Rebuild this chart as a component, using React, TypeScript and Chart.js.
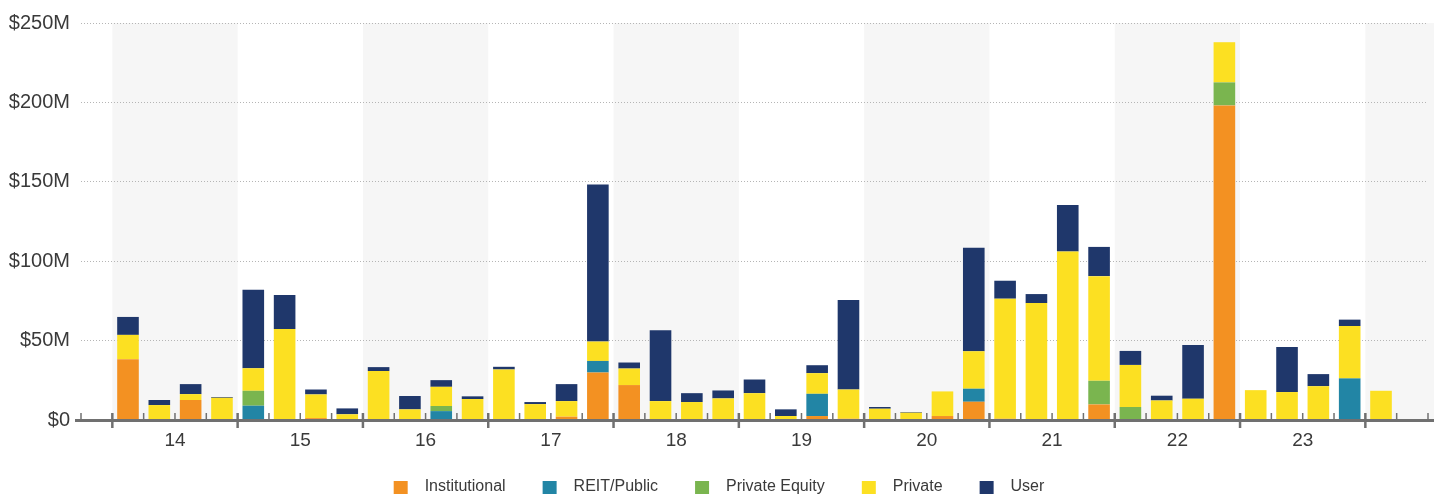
import { useEffect, useRef } from 'react';
import { Chart, registerables } from 'chart.js';

Chart.register(...registerables);

const quarters = [
  '2013 Q4',
  '2014 Q1', '2014 Q2', '2014 Q3', '2014 Q4',
  '2015 Q1', '2015 Q2', '2015 Q3', '2015 Q4',
  '2016 Q1', '2016 Q2', '2016 Q3', '2016 Q4',
  '2017 Q1', '2017 Q2', '2017 Q3', '2017 Q4',
  '2018 Q1', '2018 Q2', '2018 Q3', '2018 Q4',
  '2019 Q1', '2019 Q2', '2019 Q3', '2019 Q4',
  '2020 Q1', '2020 Q2', '2020 Q3', '2020 Q4',
  '2021 Q1', '2021 Q2', '2021 Q3', '2021 Q4',
  '2022 Q1', '2022 Q2', '2022 Q3', '2022 Q4',
  '2023 Q1', '2023 Q2', '2023 Q3', '2023 Q4',
  '2024 Q1', '2024 Q2',
];

// $ millions
const institutional = [
  0,
  38.3, 0, 12.6, 0,
  0, 0, 1.2, 0,
  0, 0, 0, 0,
  0, 0, 2.1, 29.9,
  22.0, 0, 0, 0,
  0, 0, 2.5, 0.8,
  0, 0, 2.5, 11.5,
  0.8, 0, 0, 9.8,
  0, 0, 0, 198.1,
  0, 0, 0, 0,
  0, 0,
];
const reitPublic = [
  0,
  0, 0, 0, 0,
  9.0, 0, 0, 0,
  0, 0, 5.6, 0,
  0, 0, 0, 7.3,
  0, 0, 0, 0,
  0, 0, 14.0, 0,
  0, 0, 0, 8.2,
  0, 0, 0, 0,
  0, 0, 0, 0,
  0, 0, 0, 26.2,
  0, 0,
];
const privateEquity = [
  0,
  0, 0, 0, 0,
  9.4, 0, 0, 0,
  0, 0, 3.2, 0,
  0, 0, 0, 0,
  0, 0, 0, 0,
  0, 0, 0, 0,
  0, 0, 0, 0,
  0, 0, 0, 14.9,
  8.2, 0, 0, 14.5,
  0, 0, 0, 0,
  0, 0,
];
const privateBuyers = [
  0,
  15.3, 9.4, 3.7, 14.0,
  14.2, 57.3, 14.9, 3.6,
  30.8, 6.7, 12.1, 13.2,
  31.8, 10.0, 9.8, 12.2,
  10.4, 11.9, 11.3, 13.6,
  16.9, 2.5, 13.0, 18.4,
  7.1, 4.6, 15.5, 23.6,
  75.6, 73.6, 106.1, 65.9,
  26.5, 12.3, 13.4, 25.3,
  18.8, 17.6, 21.3, 33.0,
  18.4, 0,
];
const user = [
  0,
  11.3, 3.2, 6.3, 0.5,
  49.4, 21.4, 3.1, 3.7,
  2.5, 8.4, 4.2, 1.7,
  1.7, 1.3, 10.7, 98.9,
  3.8, 44.6, 5.6, 5.0,
  8.6, 4.2, 5.0, 56.3,
  1.1, 0.4, 0, 65.1,
  11.3, 5.7, 29.3, 18.4,
  8.8, 3.0, 33.9, 0,
  0, 28.4, 7.6, 4.0,
  0, 0,
];

const yearTickLabels = ['14', '15', '16', '17', '18', '19', '20', '21', '22', '23'];
const shadedYears = ['2014', '2016', '2018', '2020', '2022', '2024'];

const FONT = "'Liberation Sans', Arial, Helvetica, sans-serif";
const TEXT = '#3a3a3a';

function makeSwatch(color: string) {
  const c = document.createElement('canvas');
  c.width = 33;
  c.height = 13;
  const g = c.getContext('2d');
  if (g) {
    g.fillStyle = color;
    g.fillRect(10, 0, 14, 13);
  }
  return c;
}

const decorPlugin = {
  id: 'decor',
  beforeDraw(chart: any) {
    const { ctx, chartArea, scales } = chart;
    const x = scales.x;
    const half = (x.getPixelForValue(1) - x.getPixelForValue(0)) / 2;
    ctx.save();
    ctx.fillStyle = '#f6f6f6';
    quarters.forEach((q, i) => {
      if (q.endsWith('Q1') && shadedYears.includes(q.slice(0, 4))) {
        const x0 = x.getPixelForValue(i) - half;
        let x1 = x.getPixelForValue(Math.min(i + 3, quarters.length - 1)) + half;
        if (i + 3 >= quarters.length - 1) x1 = chartArea.right + 6;
        ctx.fillRect(x0, chartArea.top, x1 - x0, chartArea.bottom - chartArea.top);
      }
    });
    ctx.restore();
  },
  afterDatasetsDraw(chart: any) {
    const { ctx, chartArea, scales } = chart;
    const x = scales.x;
    const half = (x.getPixelForValue(1) - x.getPixelForValue(0)) / 2;
    const yb = chartArea.bottom;
    ctx.save();
    ctx.strokeStyle = '#707070';
    ctx.lineWidth = 3;
    ctx.beginPath();
    ctx.moveTo(chartArea.left - 6, yb + 0.5);
    ctx.lineTo(chartArea.right + 6, yb + 0.5);
    ctx.stroke();
    for (let i = 0; i <= quarters.length; i++) {
      const px = i < quarters.length ? x.getPixelForValue(i) - half : x.getPixelForValue(quarters.length - 1) + half;
      const major = i < quarters.length && quarters[i].endsWith('Q1');
      ctx.lineWidth = major ? 2.5 : 1.5;
      ctx.beginPath();
      ctx.moveTo(px, yb - 7);
      ctx.lineTo(px, major ? yb + 8 : yb);
      ctx.stroke();
    }
    ctx.restore();
  },
};

export default function App() {
  const canvasRef = useRef<HTMLCanvasElement | null>(null);

  useEffect(() => {
    document.body.style.margin = '0';
    const canvas = canvasRef.current;
    if (!canvas) return;
    const defaultLabels = (Chart.defaults as any).plugins.legend.labels.generateLabels;
    const chart = new Chart(canvas, {
      type: 'bar',
      data: {
        labels: quarters,
        datasets: [
          { label: 'Institutional', data: institutional, backgroundColor: '#F39122' },
          { label: 'REIT/Public', data: reitPublic, backgroundColor: '#2285A5' },
          { label: 'Private Equity', data: privateEquity, backgroundColor: '#7AB54F' },
          { label: 'Private', data: privateBuyers, backgroundColor: '#FCE022' },
          { label: 'User', data: user, backgroundColor: '#1F376B' },
        ],
      },
      options: {
        responsive: false,
        animation: false,
        layout: { padding: { top: 21, right: 15, bottom: 0, left: 0 } },
        datasets: {
          bar: { barPercentage: 0.69, categoryPercentage: 1, borderWidth: 0 },
        },
        scales: {
          x: {
            stacked: true,
            offset: true,
            grid: { display: false, drawTicks: false },
            border: { display: false },
            ticks: {
              autoSkip: false,
              maxRotation: 0,
              minRotation: 0,
              padding: 9,
              labelOffset: 15.67,
              color: TEXT,
              font: { family: FONT, size: 19 },
              callback: (_v: any, i: number) => {
                const q = quarters[i];
                if (q && q.endsWith('Q2')) {
                  const yy = q.slice(2, 4);
                  if (yearTickLabels.includes(yy)) return yy;
                }
                return '';
              },
            },
            afterFit: (scale: any) => {
              scale.height = 32;
            },
          },
          y: {
            stacked: true,
            min: 0,
            max: 250,
            grid: { color: '#b5b5b5', lineWidth: 1, drawTicks: false },
            border: { display: false, dash: [1, 2] },
            ticks: {
              stepSize: 50,
              padding: 11,
              color: TEXT,
              font: { family: FONT, size: 20 },
              callback: (v: any) => (Number(v) === 0 ? '$0' : `$${v}M`),
            },
            afterFit: (scale: any) => {
              scale.width = 81;
            },
          },
        },
        plugins: {
          tooltip: { enabled: false },
          legend: {
            position: 'bottom',
            maxHeight: 46,
            labels: {
              usePointStyle: true,
              pointStyleWidth: 33,
              boxHeight: 13,
              padding: 27,
              color: TEXT,
              font: { family: FONT, size: 16 },
              generateLabels: (ch: any) =>
                defaultLabels(ch).map((item: any) => ({
                  ...item,
                  pointStyle: makeSwatch(String(item.fillStyle)),
                })),
            },
          },
        },
      },
      plugins: [decorPlugin],
    } as any);
    return () => chart.destroy();
  }, []);

  return (
    <div style={{ width: 1443, height: 498 }}>
      <canvas ref={canvasRef} width={1443} height={498} style={{ display: 'block' }} />
    </div>
  );
}
